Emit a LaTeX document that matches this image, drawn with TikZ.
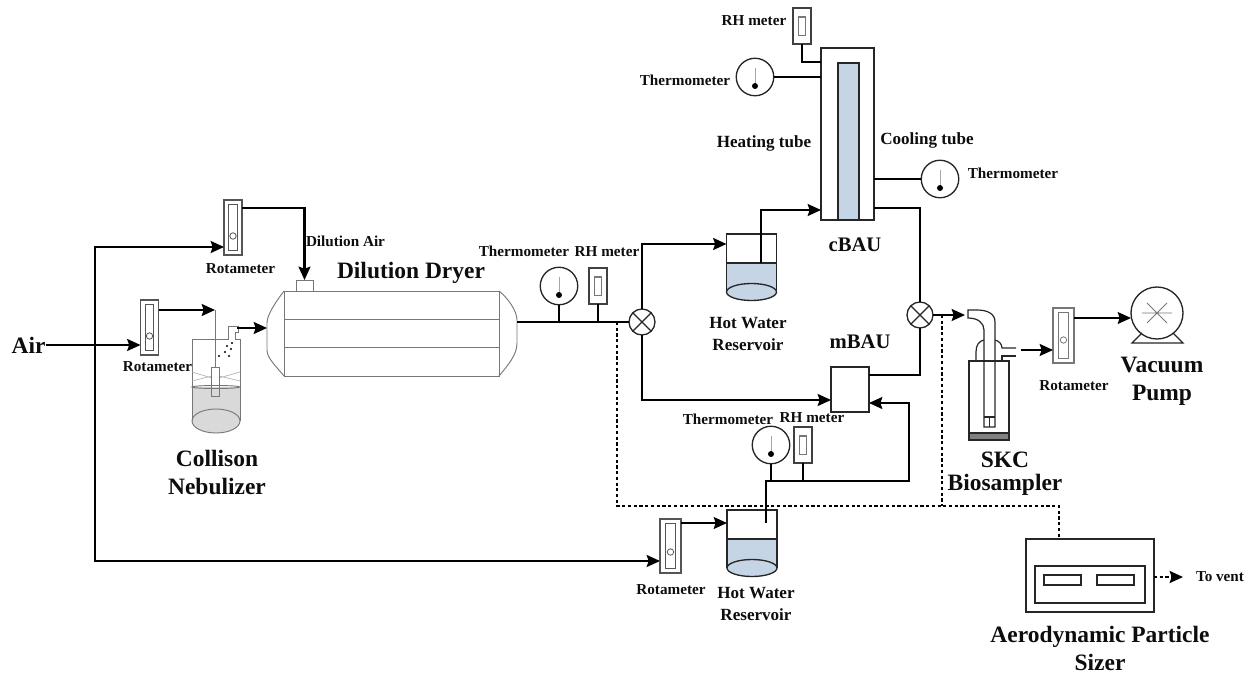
\documentclass[tikz,border=0pt]{standalone}
\usepackage{fontspec}
\setmainfont{Liberation Serif}
\usetikzlibrary{arrows.meta,calc}
\def\pxu{0.75pt}
\definecolor{waterblue}{HTML}{C6D5E6}
\definecolor{meterline}{HTML}{555555}
\definecolor{softline}{HTML}{777777}
\tikzset{
  pipe/.style={draw=black,line width=1.6pt,line join=miter},
  flow/.style={pipe,-{Stealth[length=10pt,width=9pt,inset=1.5pt]}},
  thinflow/.style={draw=black,line width=1.2pt,-{Stealth[length=10pt,width=9pt,inset=1.5pt]}},
  sample/.style={draw=black,line width=1.6pt,dash pattern=on 2.4pt off 1.9pt},
  softv/.style={draw=softline,line width=0.7pt},
  darkv/.style={draw=black!85,line width=1pt},
  blank/.style={rectangle,inner sep=0pt,outer sep=0pt},
  valve/.style={circle,draw=black!85,fill=white,line width=1pt,minimum size=26*\pxu,inner sep=0pt,outer sep=0pt},
  txs/.style={font=\bfseries\fontsize{11.4pt}{13pt}\selectfont,inner sep=0pt,align=center,text=black!95},
  txm/.style={font=\bfseries\fontsize{12.8pt}{16.5pt}\selectfont,inner sep=0pt,align=center,text=black!95},
  txl/.style={font=\bfseries\fontsize{17.6pt}{17.6pt}\selectfont,inner sep=0pt,align=center,text=black!95},
  txc/.style={font=\bfseries\fontsize{15.5pt}{16pt}\selectfont,inner sep=0pt,align=center,text=black!95},
}
% name, cx, cy, w, h, ball offset
\newcommand{\rotam}[7][meterline]{%
  \node[blank,draw=#1,line width=.8pt,fill=white,minimum width=#5*\pxu,minimum height=#6*\pxu] (#2) at (#3,#4) {};
  \draw[#1,line width=.7pt] ($(#3,#4)+(-#5*.24,-#6*.42)$) rectangle ($(#3,#4)+(#5*.24,#6*.42)$);
  \draw[#1,line width=.6pt] ($(#3,#4)+(0,#7)$) circle [radius=3.2];
}
% name, cx, cy
\newcommand{\thermom}[3]{%
  \node[circle,draw=black!85,fill=white,line width=1pt,minimum size=37.5*\pxu,inner sep=0pt,outer sep=0pt] (#1) at (#2,#3) {};
  \draw[gray!70,line width=.6pt] ($(#2,#3)+(0,-9)$) -- ($(#2,#3)+(0,9)$);
  \fill[black] ($(#2,#3)+(0,9)$) circle [radius=3];
}
% name, cx, cy
\newcommand{\rhmeter}[3]{%
  \node[blank,draw=black!75,line width=.9pt,fill=white,minimum width=18*\pxu,minimum height=36*\pxu] (#1) at (#2,#3) {};
  \draw[softline,line width=.8pt] ($(#2,#3)+(-3.5,-9)$) rectangle ($(#2,#3)+(3.5,9.5)$);
}
% name, cx, top y
\newcommand{\reservoir}[3]{%
  \node[blank,minimum width=50*\pxu,minimum height=67*\pxu] (#1) at (#2,#3+33.5) {};
  \fill[waterblue] ($(#2,#3)+(-25,29)$) rectangle ($(#2,#3)+(25,58)$);
  \fill[waterblue] ($(#2,#3)+(0,58)$) ellipse [x radius=25,y radius=8.5];
  \draw[darkv] ($(#2,#3)+(-25,58)$) -- ($(#2,#3)+(-25,0)$) -- ($(#2,#3)+(25,0)$) -- ($(#2,#3)+(25,58)$);
  \draw[darkv] ($(#2,#3)+(-25,29)$) -- ($(#2,#3)+(25,29)$);
  \draw[darkv] ($(#2,#3)+(0,58)$) ellipse [x radius=25,y radius=8.5];
}
\begin{document}
\begin{tikzpicture}[x=\pxu,y=-\pxu]
\useasboundingbox (0,0) rectangle (1258,675);

% ---- rotameters
\rotam{rotA}{233}{227.5}{18}{55}{8.5}
\rotam{rotB}{149.5}{327.5}{18}{55}{8.5}
\rotam{rotC}{670.5}{546}{21}{54}{6}
\rotam[softline]{rotD}{1063.5}{335.5}{21}{55}{4.5}

% ---- nebulizer
\node[blank,minimum width=48*\pxu,minimum height=82*\pxu] (neb) at (216,380) {};
\fill[black!15] (192,387) rectangle (240,421);
\fill[black!15] (216,421) ellipse [x radius=24,y radius=12];
\draw[softv] (192,421) -- (192,339) -- (228,339) -- (228,326) -- (238,326) -- (238,332) -- (235,332) -- (235,339) -- (240,339) -- (240,421);
\draw[softv] (216,421) ellipse [x radius=24,y radius=12];
\draw[softv] (216,387) ellipse [x radius=24,y radius=1.5];
\draw[gray!60,line width=.5pt] (192,372) -- (212,378) (192,381) -- (212,376) (240,372) -- (219,378) (240,381) -- (219,376);
\node[blank,draw=softline,line width=.7pt,fill=none,minimum width=8*\pxu,minimum height=29*\pxu] (nozzle) at (215,381.5) {};
\foreach \dx/\dy in {232/343,227/346,231/349,225/352,219/356,229/356}{\fill[black] (\dx,\dy) circle [radius=1.2];}

% ---- dilution dryer
\node[blank,draw=softline,line width=.7pt,minimum width=215*\pxu,minimum height=85*\pxu] (dryer) at (391.5,333.5) {};
\draw[softv] (284,319) -- (499,319) (284,347) -- (499,347);
\draw[softv] (284,291) .. controls (275,303) and (267,315) .. (267,323) -- (267,350) .. controls (267,358) and (275,365) .. (284,376);
\draw[softv] (499,291) .. controls (508,298) and (517,311) .. (517,320) -- (517,343) .. controls (517,355) and (508,365) .. (499,376);
\node[blank,draw=softline,line width=.7pt,fill=white,minimum width=17*\pxu,minimum height=11*\pxu] (inlet) at (304.5,285.5) {};
\coordinate (dryerin) at (267,328);
\coordinate (dryerout) at (517,322);
\coordinate (nebout) at (237,328);

% ---- instruments on main line
\thermom{thA}{559}{286}
\rhmeter{rhA}{598}{286}
\node[valve] (vA) at (642,322) {};
\draw[black!85,line width=1pt] (vA.north east) -- (vA.south west) (vA.north west) -- (vA.south east);
\node[valve] (vB) at (920,315) {};
\draw[black!85,line width=1pt] (vB.north east) -- (vB.south west) (vB.north west) -- (vB.south east);

% ---- reservoirs
\reservoir{resA}{751.5}{234}
\reservoir{resB}{752}{510}

% ---- cBAU
\node[blank,draw=black!85,line width=1pt,minimum width=53*\pxu,minimum height=172*\pxu] (cbau) at (847.5,134) {};
\node[blank,draw=black!85,line width=1pt,fill=waterblue,minimum width=21*\pxu,minimum height=157*\pxu] (cinner) at (848.5,141.5) {};
\rhmeter{rhB}{802}{26}
\thermom{thB}{755}{77}
\thermom{thC}{940}{179}

% ---- mBAU
\node[blank,draw=black!85,line width=1pt,fill=white,minimum width=38*\pxu,minimum height=45*\pxu] (mbau) at (850,389.5) {};
\thermom{thD}{771}{445}
\rhmeter{rhC}{803}{445}

% ---- biosampler
\node[blank,draw=black!85,line width=.9pt,minimum width=40*\pxu,minimum height=79*\pxu] (skc) at (989,400.5) {};
\fill[black!50] (969,433) rectangle (1009,440);
\draw[black!85,line width=.9pt] (969,433) rectangle (1009,440);
\draw[black!85,line width=.9pt] (968,310) -- (977,310) .. controls (988,310) and (995,314) .. (995,322) -- (995,427) -- (984,427) -- (984,330) .. controls (984,323) and (978,318) .. (968,318) -- cycle;
\draw[black!85,line width=.9pt] (984,417) -- (995,417) (989.5,417) -- (989.5,427);
\draw[black!85,line width=.9pt] (976,361) -- (976,352) .. controls (976,345) and (979,341) .. (984,340);
\draw[black!85,line width=.9pt] (995,340) .. controls (999,341) and (1002,344) .. (1002,348) -- (1016,348);
\draw[black!85,line width=.9pt] (1016,356) -- (1002,356) -- (1002,361);
\coordinate (skcin) at (965,315);
\coordinate (skcout) at (1021,350);

% ---- pump
\node[circle,draw=black!85,fill=white,line width=1pt,minimum size=52*\pxu,inner sep=0pt,outer sep=0pt] (pump) at (1157,313) {};
\draw[black!85,line width=.9pt] (1142,333) -- (1132,343) -- (1183,343) -- (1173,333);
\draw[softline,line width=.7pt] (1142,313) -- (1172,313) (1147,303) -- (1167,323) (1147,323) -- (1167,303);

% ---- particle sizer
\node[blank,draw=black!85,line width=1pt,minimum width=128*\pxu,minimum height=73*\pxu] (aps) at (1090,575.5) {};
\node[blank,draw=black!85,line width=1pt,minimum width=110*\pxu,minimum height=37*\pxu] (apsin) at (1090,584.5) {};
\node[blank,draw=black!85,line width=1pt,minimum width=37*\pxu,minimum height=10*\pxu] (apsa) at (1062.5,580) {};
\node[blank,draw=black!85,line width=1pt,minimum width=37*\pxu,minimum height=10*\pxu] (apsb) at (1115.5,580) {};

% ---- labels
\node[txl] (tAir) at (28.5,345) {Air};
\node[txs] (tRotA) at (240.5,269) {Rotameter};
\node[txs] (tRotB) at (157.5,367) {Rotameter};
\node[txs] (tRotC) at (671,590) {Rotameter};
\node[txs] (tRotD) at (1074,386) {Rotameter};
\node[txs] (tDil) at (345.5,241) {Dilution Air};
\node[txl] (tDry) at (411,273) {Dilution Dryer};
\node[txl] (tNeb) at (217,472.5) {Collison\\[3pt]Nebulizer};
\node[txs] (tThA) at (524,251) {Thermometer};
\node[txs] (tRhA) at (607,252) {RH meter};
\node[txm] (tResA) at (748,334) {Hot Water\\Reservoir};
\node[txc] (tC) at (855,245) {cBAU};
\node[txc] (tM) at (860,342) {mBAU};
\node[txs] (tRhB) at (754,21) {RH meter};
\node[txs] (tThB) at (685,80) {Thermometer};
\node[txm] (tHeat) at (764,143) {Heating tube};
\node[txm] (tCool) at (927,140) {Cooling tube};
\node[txs] (tThC) at (1013,173) {Thermometer};
\node[txl] (tVac) at (1162,381.5) {Vacuum\\[3pt]Pump};
\node[txl] (tSkc) at (1005,473.5) {SKC\\[-.5pt]Biosampler};
\node[txs] (tThD) at (728,419) {Thermometer};
\node[txs] (tRhC) at (812,418) {RH meter};
\node[txm] (tResB) at (756,604) {Hot Water\\Reservoir};
\node[txl] (tAps) at (1100,648.5) {Aerodynamic Particle\\[3pt]Sizer};
\node[txs] (tVent) at (1220,577) {To vent};

% ---- connectors
\coordinate (airj) at (95,345);
\draw[flow] (tAir.east) -- (rotB.west |- tAir.east);
\draw[flow] (airj) |- (rotA.west |- 0,247);
\draw[flow] (airj) |- (rotC.west |- 0,561);
\draw[flow] (rotA.east |- 0,208) -| (inlet.north);
\coordinate (nebtop) at (215,310);
\draw[flow] (rotB.east |- nebtop) -- (nebtop);
\draw[softv] (nebtop) -- (nozzle.north);
\draw[flow] (nebout) -- (dryerin);
\draw[pipe] (dryerout) -- (vA.west);
\draw[pipe] (thA.south) -- (thA.south |- dryerout);
\draw[pipe] (rhA.south) -- (rhA.south |- dryerout);
\coordinate (sampA) at (617,322);
\coordinate (sampB) at (942,315);
\coordinate (sampC) at (617,506);
\draw[flow] (vA.north) |- (resA.west |- 0,244);
\coordinate (resAdip) at (761,263);
\draw[flow] (resAdip) |- (cbau.west |- 0,210);
\draw[pipe] (cbau.east |- 0,208) -| (vB.north);
\draw[pipe] (vB.south) |- (mbau.east |- 0,375);
\draw[flow] (vA.south) |- (mbau.west |- 0,400);
\draw[pipe] (rhB.south) |- (cbau.west |- 0,62);
\draw[pipe,line width=1.2pt] (thB.east) -- (cbau.west |- thB.east);
\draw[pipe,line width=1.2pt] (cbau.east |- thC.west) -- (thC.west);
\coordinate (resBdip) at (766,523);
\coordinate (pipeturn) at (909,481);
\draw[flow] (resBdip) |- (pipeturn) |- (mbau.east |- 0,403);
\draw[pipe] (thD.south) -- (thD.south |- pipeturn);
\draw[pipe] (rhC.south) -- (rhC.south |- pipeturn);
\draw[thinflow] (rotC.east |- 0,523) -- (resB.west |- 0,523);
\draw[flow] (vB.east) -- (skcin);
\draw[flow] (skcout) -- (rotD.west |- skcout);
\draw[thinflow] (rotD.east |- 0,318) -- (pump.west |- 0,318);
\draw[sample] (sampA) -- (sampC) -| (aps.north -| 1059,0);
\draw[sample] (sampB) -- (sampB |- sampC);
\draw[sample,-{Stealth[length=10pt,width=9pt,inset=1.5pt]}] (aps.east |- tVent) -- (1183,577);
\end{tikzpicture}
\end{document}
